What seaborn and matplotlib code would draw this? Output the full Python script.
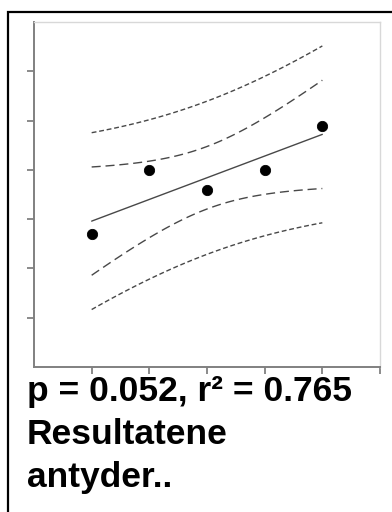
import numpy as np
import pandas as pd
import matplotlib
matplotlib.use("Agg")
import matplotlib.pyplot as plt
from matplotlib.patches import Rectangle
import seaborn as sns

# data
x_vals = [1, 2, 3, 4, 5]
y_vals = [2.7, 4.0, 3.6, 4.0, 4.9]
stat_line = "p = 0.052, r\u00b2 = 0.765"
note_lines = ["Resultatene", "antyder.."]

sns.set_style("white")
plt.rcParams["font.family"] = ["Liberation Sans", "DejaVu Sans"]

df = pd.DataFrame({"x": x_vals, "y": y_vals})

# least squares fit with 95% confidence / prediction bands (t, df=3)
x = df["x"].to_numpy(float)
y = df["y"].to_numpy(float)
n = len(x)
slope, intercept = np.polyfit(x, y, 1)
resid = y - (intercept + slope * x)
s = np.sqrt((resid ** 2).sum() / (n - 2))
t_crit = 3.182
sxx = ((x - x.mean()) ** 2).sum()
grid = np.linspace(x.min(), x.max(), 100)
fit = intercept + slope * grid
se_mean = s * np.sqrt(1 / n + (grid - x.mean()) ** 2 / sxx)
se_pred = s * np.sqrt(1 + 1 / n + (grid - x.mean()) ** 2 / sxx)
bands = pd.DataFrame({
    "x": grid,
    "fit": fit,
    "ci_lo": fit - t_crit * se_mean,
    "ci_hi": fit + t_crit * se_mean,
    "pi_lo": fit - t_crit * se_pred,
    "pi_hi": fit + t_crit * se_pred,
})

fig = plt.figure(figsize=(3.92, 5.12), dpi=100)
ax = fig.add_axes([34 / 392, 145 / 512, 346 / 392, 345 / 512])

line_col = "#484848"
sns.lineplot(data=bands, x="x", y="fit", ax=ax, color=line_col, lw=1.0)
for col in ["ci_lo", "ci_hi"]:
    sns.lineplot(data=bands, x="x", y=col, ax=ax, color=line_col, lw=1.0,
                 dashes=False).lines[-1].set_dashes((6.5, 3.5))
for col in ["pi_lo", "pi_hi"]:
    sns.lineplot(data=bands, x="x", y=col, ax=ax, color=line_col, lw=1.0,
                 dashes=False).lines[-1].set_dashes((3.5, 2.0))
sns.scatterplot(data=df, x="x", y="y", ax=ax, color="black", s=55,
                edgecolor="black", zorder=5)

ax.set_xlim(0, 6)
ax.set_ylim(0, 7)
ax.set_xticks(range(1, 7))
ax.set_yticks(range(1, 7))
ax.set_xticklabels([])
ax.set_yticklabels([])
ax.set_xlabel("")
ax.set_ylabel("")
ax.tick_params(axis="both", direction="out", length=5, width=1.2,
               color="#777777", left=True, bottom=True)
for side in ["left", "bottom"]:
    ax.spines[side].set_color("#808080")
    ax.spines[side].set_linewidth(1.4)
for side in ["top", "right"]:
    ax.spines[side].set_color("#d8d8d8")
    ax.spines[side].set_linewidth(1.0)

# frame of the scanned slide, cut off at the right and bottom
fig.patches.append(Rectangle((7.5 / 392, -0.1), 1.2, 1 - 11.5 / 512 + 0.1,
                             transform=fig.transFigure, fill=False,
                             edgecolor="black", lw=1.6))

fig.text(27 / 392, 1 - 401 / 512, stat_line, fontsize=25.5, fontweight="bold",
         color="black", va="baseline", ha="left")
for i, txt in enumerate(note_lines):
    fig.text(27 / 392, 1 - (444 + 43 * i) / 512, txt, fontsize=25.5,
             fontweight="bold", color="black", va="baseline", ha="left")

fig.savefig("out.png", dpi=100)
